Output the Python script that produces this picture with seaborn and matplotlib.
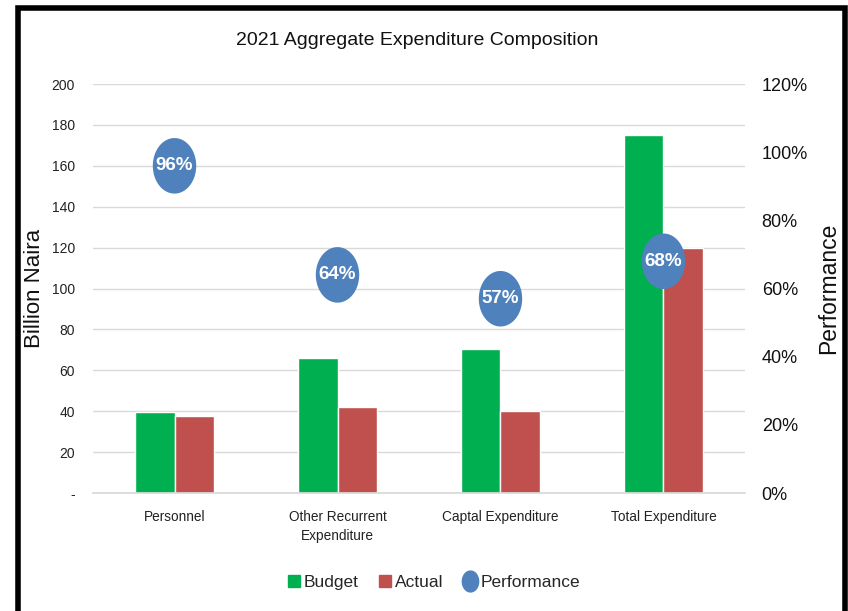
import numpy as np
import pandas as pd
import matplotlib
matplotlib.use("Agg")
import matplotlib.pyplot as plt
from matplotlib.lines import Line2D
from matplotlib.patches import Rectangle
from matplotlib.path import Path
import seaborn as sns

categories = ["Personnel", "Other Recurrent\nExpenditure", "Captal Expenditure", "Total Expenditure"]
budget = [39.5, 66.0, 70.3, 175.0]
actual = [37.8, 42.0, 40.0, 119.6]
performance = [96, 64, 57, 68]
perf_labels = ["96%", "64%", "57%", "68%"]
left_ticks = [0, 20, 40, 60, 80, 100, 120, 140, 160, 180, 200]
left_tick_labels = ["-", "20", "40", "60", "80", "100", "120", "140", "160", "180", "200"]
right_ticks = [0, 20, 40, 60, 80, 100, 120]

GREEN = "#00B050"
RED = "#C0504D"
BLUE = "#4F81BD"

sns.set_theme(style="white")
plt.rcParams["font.family"] = ["Liberation Sans", "DejaVu Sans"]

df = pd.DataFrame({
    "Category": categories * 2,
    "Value": budget + actual,
    "Series": ["Budget"] * len(categories) + ["Actual"] * len(categories),
})

fig = plt.figure(figsize=(8.48, 6.11), dpi=100)
ax = fig.add_axes([0.1097, 0.1931, 0.7688, 0.6694])

sns.barplot(data=df, x="Category", y="Value", hue="Series", order=categories,
            hue_order=["Budget", "Actual"], palette=[GREEN, RED],
            width=0.49, saturation=1, ax=ax, legend=False)
ax.set_ylim(0, 200)
ax.set_xlim(-0.5, len(categories) - 0.5)
ax.set_yticks(left_ticks)
ax.set_yticklabels(left_tick_labels, fontsize=10, color="#222222")
ax.yaxis.grid(True, color="#d9d9d9", linewidth=1)
ax.set_axisbelow(True)
ax.tick_params(axis="y", length=0, pad=13)
ax.tick_params(axis="x", length=0, pad=12, labelsize=9.8, colors="#222222")
for lab in ax.get_xticklabels():
    lab.set_linespacing(1.45)
ax.set_xlabel("")
ax.set_ylabel("Billion Naira", fontsize=16, labelpad=5, color="#111111")
for side in ["top", "right", "left"]:
    ax.spines[side].set_visible(False)
ax.spines["bottom"].set_color("#d9d9d9")

# Performance on a secondary axis, drawn as large slightly tall circles
ax2 = ax.twinx()
theta = np.linspace(0, 2 * np.pi, 80)
ellipse = Path(np.column_stack([np.cos(theta), 1.28 * np.sin(theta)]), closed=True)
perf_df = pd.DataFrame({"pos": np.arange(len(categories)), "Performance": performance})
sns.scatterplot(data=perf_df, x="pos", y="Performance", marker=ellipse, s=1600,
                color=BLUE, edgecolor="none", ax=ax2, legend=False, zorder=5)
for xi, yi, lab in zip(perf_df["pos"], performance, perf_labels):
    ax2.text(xi, yi, lab, ha="center", va="center", color="white",
             fontsize=13.5, fontweight="bold", zorder=6)
ax2.set_ylim(0, 120)
ax2.set_xlim(-0.5, len(categories) - 0.5)
ax2.set_yticks(right_ticks)
ax2.set_yticklabels([f"{t}%" for t in right_ticks], fontsize=13, color="#111111")
ax2.tick_params(axis="y", length=0, pad=12)
ax2.set_ylabel("Performance", fontsize=16.5, labelpad=7, color="#111111")
ax2.set_xlabel("")
for side in ["top", "right", "left", "bottom"]:
    ax2.spines[side].set_visible(False)

fig.text(0.492, 0.934, "2021 Aggregate Expenditure Composition",
         ha="center", va="center", fontsize=14, color="#111111")

handles = [
    Line2D([], [], marker="s", linestyle="none", markersize=8, color=GREEN),
    Line2D([], [], marker="s", linestyle="none", markersize=8, color=RED),
    Line2D([], [], marker=ellipse, linestyle="none", markersize=15, color=BLUE),
]
fig.legend(handles, ["Budget", "Actual", "Performance"], loc="center",
           bbox_to_anchor=(0.51, 0.046), ncol=3, frameon=False, fontsize=12.5,
           handletextpad=0.1, columnspacing=1.0, handlelength=1.0)

# Chart frame
fig.patches.append(Rectangle((0.021, -0.05), 0.976, 1.037, transform=fig.transFigure,
                             fill=False, edgecolor="black", linewidth=4, zorder=10))

fig.savefig("out.png", dpi=100)
